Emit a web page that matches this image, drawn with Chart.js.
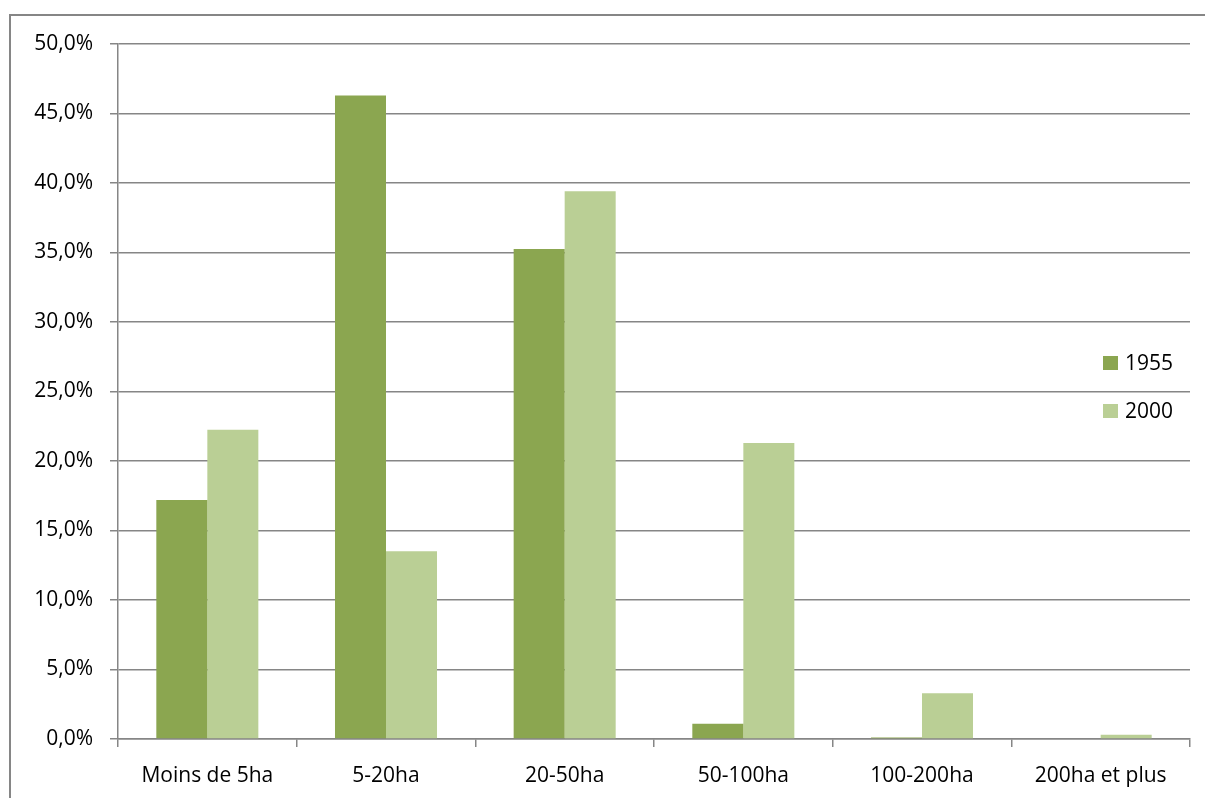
<!DOCTYPE html>
<html><head><meta charset="utf-8">
<script src="https://cdn.jsdelivr.net/npm/chart.js@4/dist/chart.umd.min.js"></script>
<style>
html,body{margin:0;padding:0;background:#fff;}
#wrap{position:relative;width:1205px;height:798px;overflow:hidden;}
#frame{position:absolute;left:9px;top:14px;width:1300px;height:900px;border-top:2px solid #868686;border-left:2px solid #868686;}
canvas{position:absolute;left:0;top:0;}
</style></head>
<body><div id="wrap"><div id="frame"></div><canvas id="c" width="1205" height="798"></canvas></div>
<script>
const categories = ["Moins de 5ha","5-20ha","20-50ha","50-100ha","100-200ha","200ha et plus"];
const seriesNames = ["1955","2000"];
const values1955 = [17.2, 46.3, 35.25, 1.1, 0.1, 0.0];
const values2000 = [22.25, 13.5, 39.4, 21.3, 3.3, 0.3];
const colors = ["#8BA650","#BACF95"];
const yTicks = [0,5,10,15,20,25,30,35,40,45,50];

const FONT = "Open Sans";
const FSIZE = 21;
const legendPlugin = {
  id:'customLegend',
  afterDraw(chart){
    const ctx = chart.ctx;
    ctx.save();
    ctx.font = FSIZE+"px '"+FONT+"'";
    ctx.textBaseline = 'middle';
    chart.data.datasets.forEach((ds,i)=>{
      const y = 363 + i*48;
      ctx.fillStyle = ds.backgroundColor;
      ctx.fillRect(1103, y-7, 15, 14);
      ctx.fillStyle = '#000';
      ctx.fillText(ds.label, 1125, y+1);
    });
    ctx.restore();
  }
};

new Chart(document.getElementById('c'), {
  type:'bar',
  data:{
    labels:categories,
    datasets:[
      {label:seriesNames[0], data:values1955, backgroundColor:colors[0], borderWidth:0},
      {label:seriesNames[1], data:values2000, backgroundColor:colors[1], borderWidth:0}
    ]
  },
  options:{
    responsive:false, animation:false,
    devicePixelRatio:1,
    layout:{padding:{left:0,right:15,top:44,bottom:0}},
    plugins:{legend:{display:false}, tooltip:{enabled:false}},
    datasets:{bar:{categoryPercentage:0.571, barPercentage:1.0}},
    scales:{
      x:{
        grid:{offset:true, drawOnChartArea:false, drawTicks:true, tickLength:8, color:'#868686', lineWidth:1.5},
        border:{color:'#868686', width:1.5},
        ticks:{color:'#000', font:{family:FONT, size:FSIZE}, padding:16, maxRotation:0, autoSkip:false},
        afterFit(s){ s.height = 59; }
      },
      y:{
        min:0, max:50,
        afterBuildTicks(s){ s.ticks = yTicks.map(v=>({value:v})); },
        grid:{color:'#868686', lineWidth:1.5, drawTicks:true, tickLength:8},
        border:{color:'#868686', width:1.5},
        ticks:{color:'#000', font:{family:FONT, size:FSIZE}, padding:17,
          callback:(v)=>v.toFixed(1).replace('.',',')+'%'},
        afterFit(s){ s.width = 118; }
      }
    }
  },
  plugins:[legendPlugin]
});
</script></body></html>
